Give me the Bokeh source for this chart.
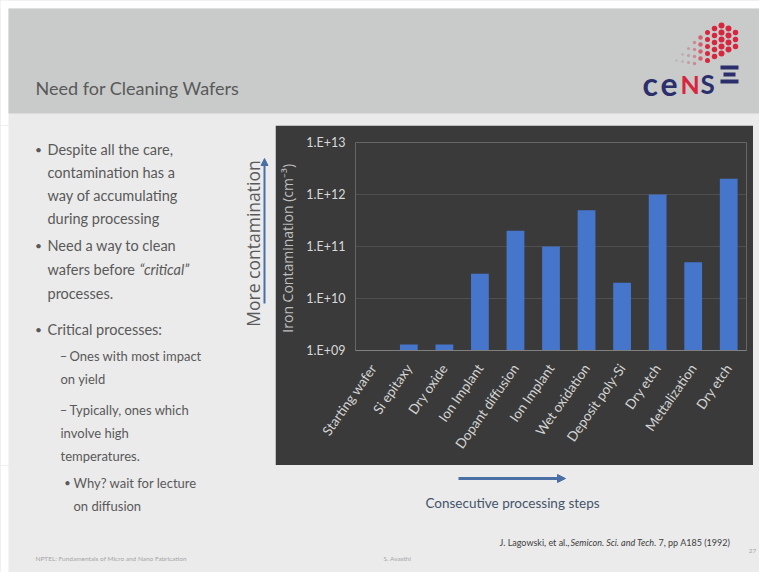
import math
from bokeh.plotting import figure
from bokeh.layouts import column, row
from bokeh.models import Range1d, FixedTicker, Arrow, NormalHead, ColumnDataSource
from bokeh.core.properties import value
from bokeh.embed import file_html
from bokeh.resources import INLINE

# ---------------- data ----------------
steps = ["Starting wafer", "Si epitaxy", "Dry oxide", "Ion Implant", "Dopant diffusion",
         "Ion Implant", "Wet oxidation", "Deposit poly-Si", "Dry etch", "Mettalization", "Dry etch"]
iron = [1.0e9, 1.3e9, 1.3e9, 3.0e10, 2.0e11, 1.0e11, 5.0e11, 2.0e10, 1.0e12, 5.0e10, 2.0e12]
ytick_vals = [1e9, 1e10, 1e11, 1e12, 1e13]
ytick_labels = ["1.E+09", "1.E+10", "1.E+11", "1.E+12", "1.E+13"]

title_text = "Need for Cleaning Wafers"
# (level, marker, text, y)
bullet_lines = [
    (1, "\u2022", "Despite all the care,", 149),
    (1, "", "contamination has a", 172),
    (1, "", "way of accumulating", 195),
    (1, "", "during processing", 218),
    (1, "\u2022", "Need a way to clean", 245),
    (1, "", "wafers before ", 269),
    (1, "", "processes.", 293),
    (1, "\u2022", "Critical processes:", 329),
    (2, "\u2013", "Ones with most impact", 355),
    (2, "", "on yield", 378),
    (2, "\u2013", "Typically, ones which", 409),
    (2, "", "involve high", 432),
    (2, "", "temperatures.", 455),
    (3, "\u2022", "Why? wait for lecture", 482),
    (3, "", "on diffusion", 505),
]
# per level: marker x (centre), marker size, text x (with marker), text x (continuation), text size
LEVEL = {1: (38, 12, 47, 47, 14.5), 2: (63, 13, 69, 60, 13), 3: (67, 11, 73, 73, 13)}

# ---------------- geometry (image coordinates) ----------------
TOTAL_W, TOTAL_H = 759, 572
M = 8                                   # white margin top/left
CX0, CX1, CY0, CY1 = 275, 753, 125, 465  # dark chart box
FX0, FX1, FY0, FY1 = 350, 746, 142, 350  # plot frame

WHITE = "#ffffff"
BODY = "#ebebeb"
HEADER = "#c9cbca"
DARK = "#3a3a3a"
TXT = "#595959"
ARROW = "#4a6fa5"
NAVY = "#2b2f6b"
RED = "#d7263d"


def panel(x0, x1, y0, y1, margin=True):
    f = figure(width=x1 - x0, height=y1 - y0, output_backend="svg", toolbar_location=None,
               x_range=Range1d(x0, x1), y_range=Range1d(y1, y0),
               x_axis_location=None, y_axis_location=None, min_border=0, frame_align=False)
    f.grid.visible = False
    f.outline_line_color = None
    f.background_fill_color = BODY
    f.border_fill_color = BODY
    if margin:  # white page margin on the left
        f.quad(left=[x0], right=[M], top=[y0], bottom=[y1], fill_color=WHITE, line_color=None)
    return f


def txt(f, x, y, s, size, color, font="Lato", style="normal", align="left",
        baseline="middle", angle=0.0):
    f.text(x=[x], y=[y], text=[s], text_font=value(font), text_font_size=f"{size}px",
           text_color=color, text_font_style=style, text_align=align,
           text_baseline=baseline, angle=angle)


def bullets(f, lo, hi):
    for lvl, mark, s, y in bullet_lines:
        if not (lo <= y < hi):
            continue
        mx, ms, tx, cx, ts = LEVEL[lvl]
        if mark:
            txt(f, mx, y, mark, ms, TXT, align="center")
            txt(f, tx, y, s, ts, TXT)
        else:
            txt(f, cx if lvl == 2 else tx, y, s, ts, TXT)


# ---------------- top panel: header ----------------
top = panel(0, TOTAL_W, 0, CY0)
top.quad(left=[0], right=[TOTAL_W], top=[0], bottom=[M], fill_color=WHITE, line_color=None)
top.quad(left=[M], right=[TOTAL_W], top=[M], bottom=[113], fill_color=HEADER, line_color=None)
txt(top, 35, 87, title_text, 18, TXT)

# logo
txt(top, 642, 83, "c", 32, NAVY, style="bold", baseline="alphabetic")
txt(top, 660, 83, "e", 32, NAVY, style="bold", baseline="alphabetic")
txt(top, 680, 83, "N", 25, RED, style="bold", baseline="alphabetic")
txt(top, 700, 83, "S", 26, NAVY, style="bold", baseline="alphabetic")
top.quad(left=[720, 723, 720], right=[738, 735, 738], top=[65, 72, 79],
         bottom=[69, 76, 83], fill_color=NAVY, line_color=None)
dot_cols = [
    (676, [60], 2.5, "#bdb5b5"),
    (682, [54, 61], 2.5, "#b8acac"),
    (688, [48, 55, 62], 3, "#bf9ea2"),
    (694, [42, 49, 56, 63], 3.5, "#c98c94"),
    (700, [37, 44, 51, 58], 4.5, "#d4606f"),
    (707, [32, 39, 46, 53, 60], 5, RED),
    (714, [28, 35, 42, 49, 56], 5.5, RED),
    (721, [25, 32, 39, 46, 53], 6, RED),
    (728, [28, 35, 42, 49], 6, RED),
    (735, [32, 39, 46], 5.5, RED),
]
for cx, ys, sz, col in dot_cols:
    top.scatter(x=[cx] * len(ys), y=ys, size=sz, marker="circle", fill_color=col, line_color=None)

# ---------------- left panel: bullets ----------------
left = panel(0, CX0, CY0, CY1)
bullets(left, CY0, CY1)
txt(left, 139, 269, "\u201ccritical\u201d", 14.5, TXT, style="italic")
txt(left, 252, 243, "More contamination", 17.5, "#5a5a5a", font="Open Sans", align="center",
    angle=math.pi / 2)
left.add_layout(Arrow(end=NormalHead(size=7, fill_color=ARROW, line_color=ARROW),
                      x_start=264, y_start=303, x_end=264, y_end=158,
                      line_color=ARROW, line_width=2))

# ---------------- chart ----------------
chart = figure(width=CX1 - CX0, height=CY1 - CY0, output_backend="svg", toolbar_location=None,
               y_axis_type="log", x_range=Range1d(-0.5, 10.5), y_range=Range1d(1e9, 1e13),
               min_border_left=FX0 - CX0, min_border_right=CX1 - FX1,
               min_border_top=FY0 - CY0, min_border_bottom=CY1 - FY1, frame_align=False)
chart.border_fill_color = DARK
chart.background_fill_color = DARK
chart.outline_line_color = None

src = ColumnDataSource(dict(x=list(range(len(steps))), top=iron,
                            bottom=[ytick_vals[0]] * len(iron)))
chart.vbar(x="x", top="top", bottom="bottom", width=0.5, source=src,
           fill_color="#4675cc", line_color=None)

chart.xgrid.grid_line_color = None
chart.ygrid.grid_line_color = "#4f4f4f"
chart.ygrid.ticker = FixedTicker(ticks=ytick_vals)

yax = chart.yaxis[0]
yax.ticker = FixedTicker(ticks=ytick_vals)
yax.major_label_overrides = {v: t for v, t in zip(ytick_vals, ytick_labels)}
yax.axis_line_color = None
yax.major_tick_line_color = None
yax.minor_tick_line_color = None
yax.major_label_text_color = "#d9d9d9"
yax.major_label_text_font = "Lato"
yax.major_label_text_font_size = "12.5px"
yax.major_label_standoff = 4
yax.axis_label = "Iron Contamination  (cm\u207b\u00b3)"
yax.axis_label_text_font = "Open Sans"
yax.axis_label_text_font_size = "14px"
yax.axis_label_text_font_style = "normal"
yax.axis_label_text_color = "#bfbfbf"
yax.axis_label_standoff = 6

xax = chart.xaxis[0]
xax.ticker = FixedTicker(ticks=list(range(len(steps))))
xax.major_label_overrides = {i: s for i, s in enumerate(steps)}
xax.major_label_orientation = math.radians(55)
xax.axis_line_color = "#808080"
xax.axis_line_width = 1
xax.major_tick_line_color = None
xax.minor_tick_line_color = None
xax.major_label_text_color = "#d4d4d4"
xax.major_label_text_font = "Lato"
xax.major_label_text_font_size = "13.5px"
xax.major_label_standoff = 9

# ---------------- right strip ----------------
right = panel(CX1, TOTAL_W, CY0, CY1, margin=False)

# ---------------- bottom panel ----------------
bottom = panel(0, TOTAL_W, CY1, TOTAL_H)
bullets(bottom, CY1, TOTAL_H)
bottom.add_layout(Arrow(end=NormalHead(size=8, fill_color=ARROW, line_color=ARROW),
                        x_start=458, y_start=478, x_end=565, y_end=478,
                        line_color=ARROW, line_width=3))
txt(bottom, 512, 502, "Consecutive processing steps", 13.5, "#44546a", align="center")
txt(bottom, 499, 542, "J. Lagowski, et al.,", 9, "#404040")
txt(bottom, 570, 542, "Semicon. Sci. and Tech.", 9, "#404040", style="italic")
txt(bottom, 658, 542, "7, pp A185 (1992)", 9, "#404040")
txt(bottom, 35, 558, "NPTEL: Fundamentals of Micro and Nano Fabrication", 6.5, "#a6a6a6")
txt(bottom, 383, 558, "S. Avasthi", 6.5, "#a6a6a6")
txt(bottom, 752, 550, "27", 6.5, "#a6a6a6", align="center")

middle = row(left, chart, right, spacing=0, styles={"background-color": BODY})
layout = column(top, middle, bottom, spacing=0, styles={"background-color": BODY})
open("out.html", "w").write(file_html(layout, INLINE))
